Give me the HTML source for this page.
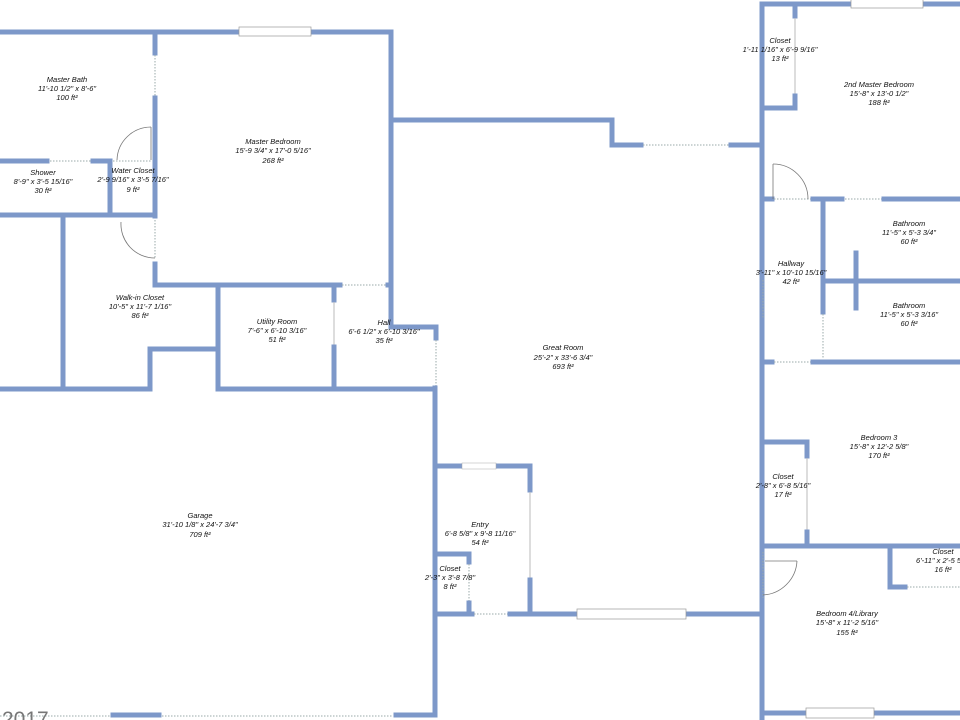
<!DOCTYPE html>
<html><head><meta charset="utf-8"><style>
html,body{margin:0;padding:0;background:#fff;width:960px;height:720px;overflow:hidden}
svg{display:block}
.w{stroke:#7d98c9;stroke-width:5;fill:none;stroke-linecap:square}
.d{stroke:#9aa;stroke-width:1;stroke-dasharray:1.5 1.5;fill:none}
.g{stroke:#bbb;stroke-width:1;fill:none}
.a{stroke:#777;stroke-width:0.8;fill:none}
.win{fill:#fff;stroke:#999;stroke-width:0.7}
text{font-family:"Liberation Sans",sans-serif;font-style:italic;font-size:7.5px;fill:#111;text-anchor:middle}
</style></head><body>
<svg width="960" height="720" viewBox="0 0 960 720" xmlns="http://www.w3.org/2000/svg">
<!-- master bath / bedroom top -->
<polyline class="w" points="0,32 391,32 391,327 436,327 436,338"/>
<rect class="win" x="239" y="27" width="72" height="9"/>
<line class="w" x1="155" y1="32" x2="155" y2="53"/>
<line class="d" x1="155" y1="55" x2="155" y2="96"/>
<line class="w" x1="155" y1="98" x2="155" y2="216"/>
<line class="d" x1="155" y1="220" x2="155" y2="258"/>
<polyline class="w" points="155,264 155,285 340,285"/>
<line class="d" x1="342" y1="285" x2="386" y2="285"/>
<line class="w" x1="388" y1="285" x2="389" y2="285"/>
<!-- shower / water closet -->
<line class="w" x1="0" y1="161" x2="47" y2="161"/>
<line class="d" x1="50" y1="161" x2="91" y2="161"/>
<polyline class="w" points="93,161 110,161 110,213"/>
<line class="d" x1="113" y1="161" x2="152" y2="161"/>
<line class="w" x1="0" y1="215" x2="155" y2="215"/>
<line class="w" x1="63" y1="215" x2="63" y2="389"/>
<polyline class="w" points="0,389 150,389 150,349 218,349 218,389 434,389"/>
<line class="w" x1="218" y1="287" x2="218" y2="349"/>
<line class="w" x1="334" y1="287" x2="334" y2="300"/>
<line class="g" x1="334" y1="302" x2="334" y2="345"/>
<line class="w" x1="334" y1="347" x2="334" y2="389"/>
<!-- doors arcs -->
<path class="a" d="M151,127 A34,34 0 0 0 117,160"/>
<line class="a" x1="151" y1="127" x2="151" y2="160"/>
<path class="a" d="M121,222 A34,34 0 0 0 155,258"/>
<!-- hall right / garage -->
<line class="d" x1="436" y1="340" x2="436" y2="386"/>
<line class="w" x1="435" y1="388" x2="435" y2="715"/>
<line class="d" x1="0" y1="716" x2="110" y2="716"/>
<line class="w" x1="113" y1="715" x2="159" y2="715"/>
<line class="d" x1="162" y1="716" x2="393" y2="716"/>
<line class="w" x1="396" y1="715" x2="435" y2="715"/>
<!-- great room top -->
<polyline class="w" points="393,120 612,120 612,145 641,145"/>
<line class="d" x1="643" y1="145" x2="729" y2="145"/>
<line class="w" x1="731" y1="145" x2="760" y2="145"/>
<!-- right block -->
<line class="w" x1="762" y1="4" x2="762" y2="720"/>
<line class="w" x1="762" y1="4" x2="960" y2="4"/>
<rect class="win" x="851" y="-1" width="72" height="9"/>
<line class="w" x1="795" y1="6" x2="795" y2="16"/>
<line class="g" x1="795" y1="18" x2="795" y2="94"/>
<polyline class="w" points="795,96 795,108 764,108"/>
<line class="w" x1="764" y1="199" x2="772" y2="199"/>
<line class="d" x1="774" y1="199" x2="811" y2="199"/>
<line class="w" x1="813" y1="199" x2="842" y2="199"/>
<line class="d" x1="845" y1="199" x2="882" y2="199"/>
<line class="w" x1="884" y1="199" x2="960" y2="199"/>
<path class="a" d="M773,164 A35,35 0 0 1 808,199"/>
<line class="a" x1="773" y1="164" x2="773" y2="199"/>
<line class="w" x1="823" y1="201" x2="823" y2="312"/>
<line class="d" x1="823" y1="314" x2="823" y2="358"/>
<line class="w" x1="826" y1="281" x2="960" y2="281"/>
<line class="w" x1="856" y1="253" x2="856" y2="308"/>
<line class="w" x1="764" y1="362" x2="772" y2="362"/>
<line class="d" x1="774" y1="362" x2="811" y2="362"/>
<line class="w" x1="813" y1="362" x2="960" y2="362"/>
<line class="d" x1="763" y1="280" x2="763" y2="318"/>
<!-- bedroom 3 closet -->
<polyline class="w" points="764,442 807,442 807,456"/>
<line class="g" x1="807" y1="458" x2="807" y2="530"/>
<line class="w" x1="807" y1="532" x2="807" y2="546"/>
<line class="w" x1="764" y1="546" x2="960" y2="546"/>
<polyline class="w" points="890,548 890,587 905,587"/>
<line class="d" x1="907" y1="587" x2="960" y2="587"/>
<line class="d" x1="763" y1="552" x2="763" y2="598"/>
<path class="a" d="M797,561 A36,36 0 0 1 763,595"/>
<line class="a" x1="765" y1="561" x2="797" y2="561"/>
<line class="w" x1="764" y1="713" x2="960" y2="713"/>
<rect class="win" x="806" y="708" width="68" height="10"/>
<!-- great room bottom / entry -->
<line class="w" x1="437" y1="614" x2="472" y2="614"/>
<line class="d" x1="474" y1="614" x2="508" y2="614"/>
<line class="w" x1="510" y1="614" x2="762" y2="614"/>
<rect class="win" x="577" y="609" width="109" height="10"/>
<line class="w" x1="437" y1="466" x2="530" y2="466"/>
<rect x="462" y="463" width="34" height="6" fill="#fff" stroke="#aaa" stroke-width="0.5"/>
<line class="w" x1="530" y1="466" x2="530" y2="490"/>
<line class="g" x1="530" y1="492" x2="530" y2="578"/>
<line class="w" x1="530" y1="580" x2="530" y2="614"/>
<polyline class="w" points="437,554 469,554 469,562"/>
<line class="d" x1="469" y1="564" x2="469" y2="601"/>
<line class="w" x1="469" y1="603" x2="469" y2="612"/>
<!-- labels -->
<g>
<text x="67" y="82">Master Bath</text><text x="67" y="91">11'-10 1/2" x 8'-6"</text><text x="67" y="100">100 ft²</text>
<text x="273" y="144">Master Bedroom</text><text x="273" y="153">15'-9 3/4" x 17'-0 5/16"</text><text x="273" y="163">268 ft²</text>
<text x="43" y="175">Shower</text><text x="43" y="184">8'-9" x 3'-5 15/16"</text><text x="43" y="193">30 ft²</text>
<text x="133" y="173">Water Closet</text><text x="133" y="182">2'-9 9/16" x 3'-5 7/16"</text><text x="133" y="192">9 ft²</text>
<text x="140" y="300">Walk-in Closet</text><text x="140" y="309">10'-5" x 11'-7 1/16"</text><text x="140" y="318">86 ft²</text>
<text x="277" y="324">Utility Room</text><text x="277" y="333">7'-6" x 6'-10 3/16"</text><text x="277" y="342">51 ft²</text>
<text x="384" y="325">Hall</text><text x="384" y="334">6'-6 1/2" x 6'-10 3/16"</text><text x="384" y="343">35 ft²</text>
<text x="563" y="350">Great Room</text><text x="563" y="360">25'-2" x 33'-6 3/4"</text><text x="563" y="369">693 ft²</text>
<text x="200" y="518">Garage</text><text x="200" y="527">31'-10 1/8" x 24'-7 3/4"</text><text x="200" y="537">709 ft²</text>
<text x="480" y="527">Entry</text><text x="480" y="536">6'-8 5/8" x 9'-8 11/16"</text><text x="480" y="545">54 ft²</text>
<text x="450" y="571">Closet</text><text x="450" y="580">2'-3" x 3'-8 7/8"</text><text x="450" y="589">8 ft²</text>
<text x="780" y="43">Closet</text><text x="780" y="52">1'-11 1/16" x 6'-9 9/16"</text><text x="780" y="61">13 ft²</text>
<text x="879" y="87">2nd Master Bedroom</text><text x="879" y="96">15'-8" x 13'-0 1/2"</text><text x="879" y="105">188 ft²</text>
<text x="909" y="226">Bathroom</text><text x="909" y="235">11'-5" x 5'-3 3/4"</text><text x="909" y="244">60 ft²</text>
<text x="791" y="266">Hallway</text><text x="791" y="275">3'-11" x 10'-10 15/16"</text><text x="791" y="284">42 ft²</text>
<text x="909" y="308">Bathroom</text><text x="909" y="317">11'-5" x 5'-3 3/16"</text><text x="909" y="326">60 ft²</text>
<text x="879" y="440">Bedroom 3</text><text x="879" y="449">15'-8" x 12'-2 5/8"</text><text x="879" y="458">170 ft²</text>
<text x="783" y="479">Closet</text><text x="783" y="488">2'-8" x 6'-8 5/16"</text><text x="783" y="497">17 ft²</text>
<text x="943" y="554">Closet</text><text x="943" y="563">6'-11" x 2'-5 5/8"</text><text x="943" y="572">16 ft²</text>
<text x="847" y="616">Bedroom 4/Library</text><text x="847" y="625">15'-8" x 11'-2 5/16"</text><text x="847" y="635">155 ft²</text>
</g>
<text x="2" y="726" style="font-style:normal;font-size:21px;fill:#777;text-anchor:start">2017</text>
</svg>
</body></html>
